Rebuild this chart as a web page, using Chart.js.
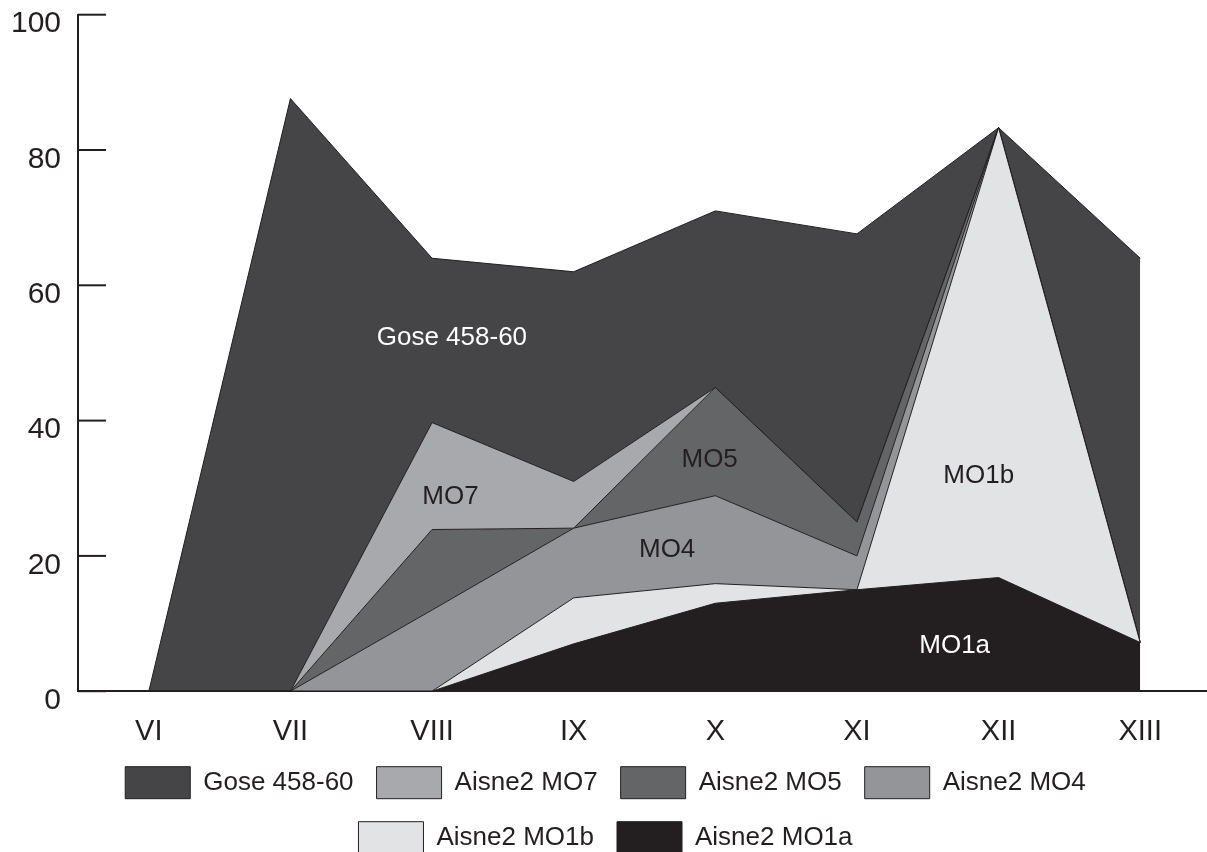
<!DOCTYPE html>
<html>
<head>
<meta charset="utf-8">
<script src="https://cdn.jsdelivr.net/npm/chart.js@4.4.1/dist/chart.umd.min.js"></script>
<style>
  html, body { margin: 0; padding: 0; background: #fff; overflow: hidden; }
  #myChart { display: block; }
</style>
</head>
<body>
<canvas id="myChart" width="1211" height="852"></canvas>
<script>
// periods on the x axis
const periods = ["VI", "VII", "VIII", "IX", "X", "XI", "XII", "XIII"];
const yTicks = [0, 20, 40, 60, 80, 100];

// series values, stacked bottom to top
const mo1a = [0, 0, 0, 7, 13, 15, 16.8, 7.2];
const mo1b = [0, 0, 0, 6.8, 2.9, 0, 66.5, 0];
const mo4 = [0, 0, 12, 10.3, 13, 5, 0, 0];
const mo5 = [0, 0, 11.9, 0, 16, 5, 0, 0];
const mo7 = [0, 0, 15.8, 6.9, 0, 0, 0, 0];
const gose = [0, 87.6, 24.3, 31, 26.1, 42.6, 0, 56.8];

const seriesNames = ["Aisne2 MO1a", "Aisne2 MO1b", "Aisne2 MO4", "Aisne2 MO5", "Aisne2 MO7", "Gose 458-60"];
const seriesValues = [mo1a, mo1b, mo4, mo5, mo7, gose];
const seriesColors = ["#231f20", "#e2e3e4", "#939598", "#646567", "#a8a9ac", "#454446"];

// labels written inside the areas (category position, value)
const noteTexts = ["Gose 458-60", "MO7", "MO5", "MO4", "MO1b", "MO1a"];
const noteAt = [2.14, 2.13, 3.96, 3.66, 5.86, 5.69];
const noteValue = [52.2, 28.7, 34.2, 20.9, 31.8, 6.7];
const noteColors = ["#ffffff", "#231f20", "#231f20", "#231f20", "#231f20", "#ffffff"];

const ink = "#231f20";
Chart.defaults.font.family = '"Liberation Sans", Arial, sans-serif';

const innerTicks = {
  id: "innerTicks",
  afterDraw(chart) {
    const ctx = chart.ctx;
    const y = chart.scales.y;
    const left = chart.chartArea.left;
    ctx.save();
    ctx.strokeStyle = ink;
    ctx.lineWidth = 2;
    yTicks.forEach(function(v) {
      const py = y.getPixelForValue(v);
      ctx.beginPath();
      ctx.moveTo(left, py);
      ctx.lineTo(left + 28, py);
      ctx.stroke();
    });
    ctx.restore();
  }
};

const areaNotes = {
  id: "areaNotes",
  afterDatasetsDraw(chart) {
    const ctx = chart.ctx;
    const x = chart.scales.x, y = chart.scales.y;
    ctx.save();
    ctx.font = '26px "Liberation Sans", Arial, sans-serif';
    ctx.textAlign = "center";
    ctx.textBaseline = "middle";
    noteTexts.forEach(function(t, i) {
      ctx.fillStyle = noteColors[i];
      ctx.fillText(t, x.getPixelForValue(noteAt[i]), y.getPixelForValue(noteValue[i]));
    });
    ctx.restore();
  }
};

function drawChart() {
  const datasets = seriesNames.map(function(name, i) {
    return {
      label: name,
      data: seriesValues[i],
      backgroundColor: seriesColors[i],
      borderColor: ink,
      borderWidth: 1,
      fill: i === 0 ? "origin" : "-1",
      pointRadius: 0,
      tension: 0
    };
  });

  new Chart("myChart", {
    type: "line",
    data: { labels: periods, datasets: datasets },
    plugins: [innerTicks, areaNotes],
    options: {
      responsive: false,
      animation: false,
      layout: { padding: { top: 14.7, left: 0, right: 0, bottom: -11.7 } },
      plugins: {
        tooltip: { enabled: false },
        legend: {
          position: "bottom",
          reverse: true,
          labels: {
            boxWidth: 65,
            boxHeight: 32,
            padding: 23,
            color: ink,
            font: { size: 26 }
          }
        }
      },
      scales: {
        x: {
          offset: true,
          grid: { display: false, drawTicks: false, tickLength: 0 },
          border: { display: true, color: ink, width: 2 },
          ticks: { padding: 23.4, color: ink, font: { size: 29 }, maxRotation: 0 },
          afterFit: function(s) { s.height = 52.5; s.paddingLeft = 0; s.paddingRight = 0; }
        },
        y: {
          stacked: true,
          min: 0,
          max: 100,
          grid: { display: false, drawTicks: false, tickLength: 0 },
          border: { display: true, color: ink, width: 2 },
          ticks: { stepSize: 20, padding: 17, labelOffset: 9.5, color: ink, font: { size: 30 } },
          afterFit: function(s) { s.width = 78; s.paddingTop = 0; s.paddingBottom = 0; }
        }
      }
    }
  });
}

drawChart();
</script>
</body>
</html>
